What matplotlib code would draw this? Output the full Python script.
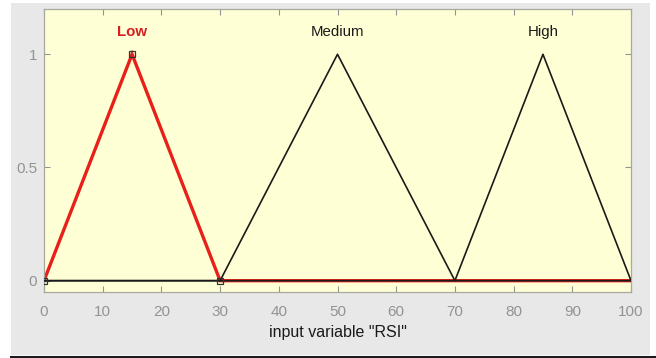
import matplotlib
matplotlib.use("Agg")
import matplotlib.pyplot as plt
from matplotlib.patches import Rectangle
from matplotlib.lines import Line2D

# Membership functions (trimf) over the input range 0..100
mf_names = ["Low", "Medium", "High"]
low_x = [0, 15, 30, 100]
low_y = [0, 1, 0, 0]
medium_x = [0, 30, 50, 70, 100]
medium_y = [0, 0, 1, 0, 0]
high_x = [0, 70, 85, 100]
high_y = [0, 0, 1, 0]
label_x = [15, 50, 85]
label_y = 1.1
x_ticks = [0, 10, 20, 30, 40, 50, 60, 70, 80, 90, 100]
y_ticks = [0, 0.5, 1]
y_tick_labels = ["0", "0.5", "1"]
x_label = 'input variable "RSI"'

plt.rcParams['font.family'] = ['Liberation Sans', 'DejaVu Sans']

fig = plt.figure(figsize=(6.56, 3.58), dpi=100, facecolor="white")
# gray panel background of the window
fig.patches.append(Rectangle((11/656, 3/358), (650-11)/656, (355-3)/358,
                             transform=fig.transFigure, facecolor="#e8e8e8",
                             edgecolor="none", zorder=-10))
fig.lines.append(Line2D([11/656, 1.0], [1.5/358, 1.5/358], transform=fig.transFigure,
                        color="#1a1a1a", linewidth=2.2, zorder=-9))

ax = fig.add_axes([44/656, 1-292/358, 587/656, 283/358])
ax.set_zorder(1)
ax.set_facecolor("#ffffd6")

# Low (selected, red thick) drawn first, others black on top
ax.plot(low_x, low_y, color="#e8201a", linewidth=2.4, zorder=2, solid_joinstyle="miter")
ax.plot(low_x[:3], low_y[:3], linestyle="none", marker="s", markersize=5,
        markerfacecolor="none", markeredgecolor="#333333", markeredgewidth=0.9, zorder=4)
ax.plot(medium_x, medium_y, color="#1a1a1a", linewidth=1.2, zorder=3)
ax.plot(high_x, high_y, color="#1a1a1a", linewidth=1.2, zorder=3)

colors = ["#d42020", "#1a1a1a", "#1a1a1a"]
weights = ["bold", "normal", "normal"]
for name, xx, c, w in zip(mf_names, label_x, colors, weights):
    ax.text(xx, label_y, name, ha="center", va="center", fontsize=10.8,
            color=c, fontweight=w)

ax.set_xlim(0, 100)
ax.set_ylim(-0.05, 1.2)
ax.set_xticks(x_ticks)
ax.set_xticklabels([str(t) for t in x_ticks])
ax.set_yticks(y_ticks)
ax.set_yticklabels(y_tick_labels)
ax.tick_params(direction="in", top=True, right=True, length=4, width=0.8,
               colors="#939393", labelsize=11, pad=9)
ax.tick_params(axis="y", pad=5)
for s in ax.spines.values():
    s.set_color("#a8a8a0")
    s.set_linewidth(0.9)
ax.set_xlabel(x_label, fontsize=11.5, color="#1a1a1a", labelpad=5)

fig.savefig("out.png", dpi=100, facecolor="white")
